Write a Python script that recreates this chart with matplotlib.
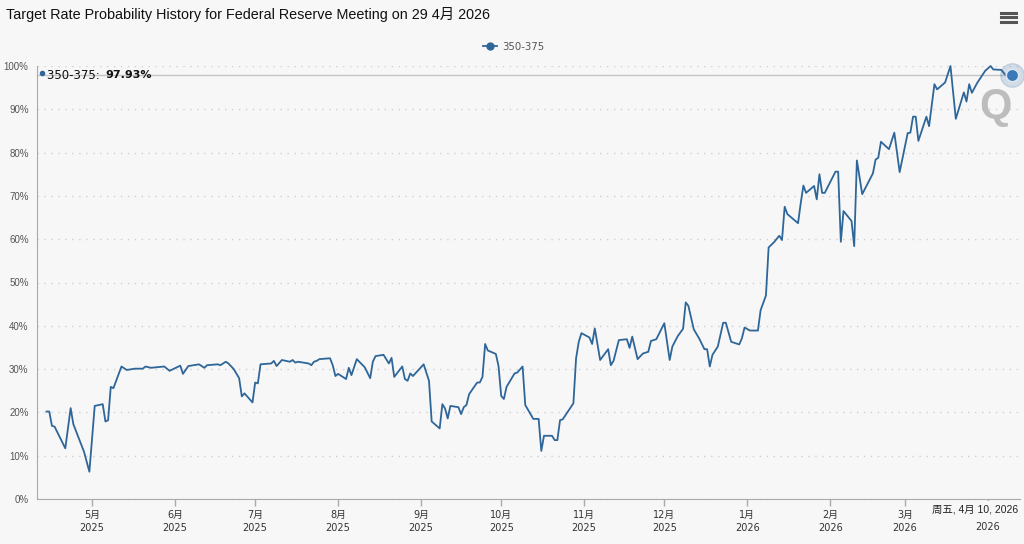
import matplotlib
matplotlib.use("Agg")
import matplotlib.pyplot as plt
import matplotlib.dates as mdates
from matplotlib.lines import Line2D
import pandas as pd

# --- DATA ---
DATES = [
    "2025-04-14", "2025-04-15", "2025-04-16", "2025-04-17", "2025-04-21", "2025-04-23",
    "2025-04-24", "2025-04-28", "2025-04-30", "2025-05-02", "2025-05-05", "2025-05-06",
    "2025-05-07", "2025-05-08", "2025-05-09", "2025-05-12", "2025-05-14", "2025-05-17",
    "2025-05-20", "2025-05-21", "2025-05-23", "2025-05-28", "2025-05-30", "2025-06-03",
    "2025-06-04", "2025-06-06", "2025-06-10", "2025-06-12", "2025-06-13", "2025-06-17",
    "2025-06-18", "2025-06-20", "2025-06-21", "2025-06-23", "2025-06-25", "2025-06-26",
    "2025-06-27", "2025-06-30", "2025-07-01", "2025-07-02", "2025-07-03", "2025-07-07",
    "2025-07-08", "2025-07-09", "2025-07-11", "2025-07-14", "2025-07-15", "2025-07-16",
    "2025-07-17", "2025-07-21", "2025-07-22", "2025-07-23", "2025-07-24", "2025-07-25",
    "2025-07-29", "2025-07-30", "2025-07-31", "2025-08-01", "2025-08-04", "2025-08-05",
    "2025-08-06", "2025-08-08", "2025-08-11", "2025-08-13", "2025-08-14", "2025-08-15",
    "2025-08-18", "2025-08-20", "2025-08-21", "2025-08-22", "2025-08-25", "2025-08-26",
    "2025-08-27", "2025-08-28", "2025-08-29", "2025-09-02", "2025-09-04", "2025-09-05",
    "2025-09-08", "2025-09-09", "2025-09-10", "2025-09-11", "2025-09-12", "2025-09-15",
    "2025-09-16", "2025-09-17", "2025-09-18", "2025-09-19", "2025-09-22", "2025-09-23",
    "2025-09-24", "2025-09-25", "2025-09-26", "2025-09-29", "2025-09-30", "2025-10-01",
    "2025-10-02", "2025-10-03", "2025-10-06", "2025-10-07", "2025-10-09", "2025-10-10",
    "2025-10-13", "2025-10-15", "2025-10-16", "2025-10-17", "2025-10-20", "2025-10-21",
    "2025-10-22", "2025-10-23", "2025-10-24", "2025-10-28", "2025-10-29", "2025-10-30",
    "2025-10-31", "2025-11-03", "2025-11-04", "2025-11-05", "2025-11-07", "2025-11-10",
    "2025-11-11", "2025-11-12", "2025-11-14", "2025-11-17", "2025-11-18", "2025-11-19",
    "2025-11-21", "2025-11-23", "2025-11-25", "2025-11-26", "2025-11-28", "2025-12-01",
    "2025-12-03", "2025-12-04", "2025-12-06", "2025-12-08", "2025-12-09", "2025-12-10",
    "2025-12-12", "2025-12-14", "2025-12-16", "2025-12-17", "2025-12-18", "2025-12-19",
    "2025-12-21", "2025-12-23", "2025-12-24", "2025-12-26", "2025-12-29", "2025-12-30",
    "2025-12-31", "2026-01-02", "2026-01-05", "2026-01-06", "2026-01-08", "2026-01-09",
    "2026-01-11", "2026-01-13", "2026-01-14", "2026-01-15", "2026-01-16", "2026-01-20",
    "2026-01-21", "2026-01-22", "2026-01-23", "2026-01-26", "2026-01-27", "2026-01-28",
    "2026-01-29", "2026-01-30", "2026-02-03", "2026-02-04", "2026-02-05", "2026-02-06",
    "2026-02-09", "2026-02-10", "2026-02-11", "2026-02-13", "2026-02-17", "2026-02-18",
    "2026-02-19", "2026-02-20", "2026-02-23", "2026-02-25", "2026-02-27", "2026-03-02",
    "2026-03-03", "2026-03-04", "2026-03-05", "2026-03-06", "2026-03-09", "2026-03-10",
    "2026-03-12", "2026-03-13", "2026-03-16", "2026-03-18", "2026-03-20", "2026-03-23",
    "2026-03-24", "2026-03-25", "2026-03-26", "2026-03-28", "2026-03-31", "2026-04-02",
    "2026-04-03", "2026-04-06", "2026-04-08", "2026-04-10",
]
PROB_350_375 = [
    20.2, 20.2, 16.9, 16.7, 11.7, 21.0,
    17.3, 10.9, 6.3, 21.5, 21.9, 17.9,
    18.2, 25.9, 25.6, 30.6, 29.8, 30.1,
    30.1, 30.6, 30.3, 30.6, 29.6, 30.8,
    28.9, 30.7, 31.1, 30.3, 30.9, 31.1,
    30.9, 31.7, 31.3, 30.0, 27.9, 23.7,
    24.4, 22.3, 26.9, 26.7, 31.1, 31.3,
    31.9, 30.7, 32.1, 31.7, 32.1, 31.5,
    31.7, 31.3, 30.9, 31.7, 31.9, 32.3,
    32.5, 30.9, 28.4, 28.9, 27.7, 30.3,
    28.6, 32.3, 30.4, 27.9, 31.7, 33.0,
    33.3, 31.3, 32.6, 28.2, 30.6, 27.7,
    27.3, 29.0, 28.4, 31.1, 27.3, 17.9,
    16.3, 21.9, 20.9, 18.6, 21.5, 21.2,
    19.6, 21.2, 21.7, 24.2, 26.9, 26.9,
    28.2, 35.8, 34.3, 33.5, 30.7, 23.8,
    23.1, 25.9, 29.0, 29.2, 30.6, 21.7,
    18.5, 18.5, 11.1, 14.6, 14.6, 13.6,
    13.6, 18.2, 18.4, 22.1, 32.5, 36.3,
    38.3, 37.3, 35.8, 39.4, 32.1, 34.6,
    30.9, 31.9, 36.7, 36.9, 34.9, 37.5,
    32.3, 33.6, 34.0, 36.5, 36.9, 40.6,
    32.1, 35.2, 37.6, 39.3, 45.4, 44.6,
    39.2, 37.1, 34.6, 34.6, 30.6, 33.3,
    35.2, 40.7, 40.7, 36.3, 35.7, 37.1,
    39.6, 38.9, 38.9, 43.6, 47.0, 58.1,
    59.3, 60.8, 59.8, 67.5, 65.8, 63.7,
    68.3, 72.4, 70.7, 72.3, 69.2, 75.0,
    70.7, 70.7, 75.6, 75.6, 59.4, 66.5,
    64.2, 58.4, 78.2, 70.4, 75.2, 78.4,
    78.8, 82.5, 80.8, 84.6, 75.5, 84.5,
    84.6, 88.3, 88.3, 82.7, 88.3, 86.1,
    95.8, 94.6, 96.2, 100.0, 87.8, 93.9,
    91.8, 95.8, 93.8, 96.1, 98.9, 100.0,
    99.2, 99.1, 97.6, 97.93,
]
SERIES_LABEL = "350-375"
Y_TICKS = [0, 10, 20, 30, 40, 50, 60, 70, 80, 90, 100]
TITLE = "Target Rate Probability History for Federal Reserve Meeting on 29 4月 2026"
HOVER_DATE = "周五, 4月 10, 2026"

# --- STYLE ---
BG = "#f7f7f7"
LINE_COLOR = "#2f6699"
SANS = ["Liberation Sans", "Noto Sans CJK SC", "DejaVu Sans"]
SMALL = ["DejaVu Sans", "Noto Sans CJK SC"]
plt.rcParams["font.family"] = SANS

dates = pd.to_datetime(DATES)
hover = dates[-1]
hover_month = pd.Timestamp(year=hover.year, month=hover.month, day=1)

fig = plt.figure(figsize=(10.24, 5.44), dpi=100, facecolor=BG)
W, H = 1024, 544
ax = fig.add_axes([37 / W, 45 / H, 983 / W, 433 / H], facecolor=BG)

# main series
ax.plot(dates, PROB_350_375, color=LINE_COLOR, linewidth=1.3, zorder=3, clip_on=False)

# crosshair at the hovered value
ax.set_xlim(pd.Timestamp("2025-04-10 10:00"), pd.Timestamp("2026-04-13"))
ax.hlines(PROB_350_375[-1], ax.get_xlim()[0], mdates.date2num(hover),
          color="#c4c4c4", linewidth=1, zorder=2)

# hovered point with halo
ax.plot(hover, PROB_350_375[-1], "o", markersize=17, color=LINE_COLOR,
        alpha=0.18, zorder=4, clip_on=False)
ax.plot(hover, PROB_350_375[-1], "o", markersize=9, markerfacecolor="#3a78b8",
        markeredgecolor="#dbe6f0", markeredgewidth=1.2, zorder=5, clip_on=False)

ax.set_ylim(0, 100)
ax.set_yticks(Y_TICKS)
ax.set_yticklabels([f"{v}%" for v in Y_TICKS])
ax.tick_params(axis="y", length=0, pad=6, labelsize=7, labelcolor="#555555")


def month_label(v, _):
    d = mdates.num2date(v)
    # the month of the hovered point is covered by the hover date box
    if d.year == hover.year and d.month == hover.month:
        return ""
    return f"{d.month}月\n{d.year}"


ax.xaxis.set_major_locator(mdates.MonthLocator())
ax.xaxis.set_major_formatter(plt.FuncFormatter(month_label))
ax.tick_params(axis="x", length=5, width=1, color="#aaaaaa", pad=3,
               labelsize=7, labelcolor="#333333")
for lbl in ax.get_xticklabels():
    lbl.set_family(SMALL)
    lbl.set_linespacing(1.3)

# only the year line of the hovered month stays visible below the box
ax.annotate(f"{hover_month.year}", xy=(hover_month, 0), xycoords=("data", "axes fraction"),
            xytext=(0, -28.5), textcoords="offset pixels", ha="center", va="center",
            fontsize=7, color="#333333", family=SMALL, annotation_clip=False)

ax.grid(axis="y", color="#cfcfcf", linestyle=(0, (1, 4)), linewidth=1)
ax.grid(axis="x", visible=False)
for side in ["top", "right"]:
    ax.spines[side].set_visible(False)
ax.spines["left"].set_color("#aaaaaa")
ax.spines["bottom"].set_color("#aaaaaa")

# title and menu icon
fig.text(6 / W, 1 - 15 / H, TITLE, fontsize=10.4, color="#111111", va="center", ha="left")
for yy in [12.7, 17.3, 22.0]:
    fig.add_artist(Line2D([1001 / W, 1016 / W], [1 - yy / H, 1 - yy / H],
                          color="#555555", linewidth=2.2))

# legend
handle = Line2D([], [], color=LINE_COLOR, marker="o", markersize=5, linewidth=1.3)
fig.legend([handle], [SERIES_LABEL], loc="center", bbox_to_anchor=(514 / W, 1 - 47 / H),
           frameon=False, prop={"family": SMALL, "size": 7.3}, labelcolor="#555555",
           handlelength=1.4, handletextpad=0.5)

# tooltip at top left
ax.plot([0.005], [PROB_350_375[-1] + 0.5], "o", markersize=3, color=LINE_COLOR,
        transform=ax.get_yaxis_transform(), clip_on=False, zorder=6)
fig.text(47 / W, 1 - 75 / H, f"{SERIES_LABEL}: ", fontsize=8.5, color="#111111",
         family=SMALL, va="center", ha="left")
fig.text(105 / W, 1 - 75 / H, f"{PROB_350_375[-1]:.2f}%", fontsize=8, color="#111111",
         family=SMALL, fontweight="bold", va="center", ha="left")

# watermark
fig.text(995 / W, 1 - 107 / H, "Q", fontsize=30, fontweight="bold", color="#b3b3b3",
         ha="center", va="center", alpha=0.85)

# hovered date label on the x axis
fig.text(1018 / W, 1 - 509 / H, HOVER_DATE, fontsize=7.5, color="#222222", ha="right",
         va="center", bbox=dict(facecolor=BG, edgecolor="none", pad=2.5))

fig.savefig("out.png", dpi=100, facecolor=BG)
